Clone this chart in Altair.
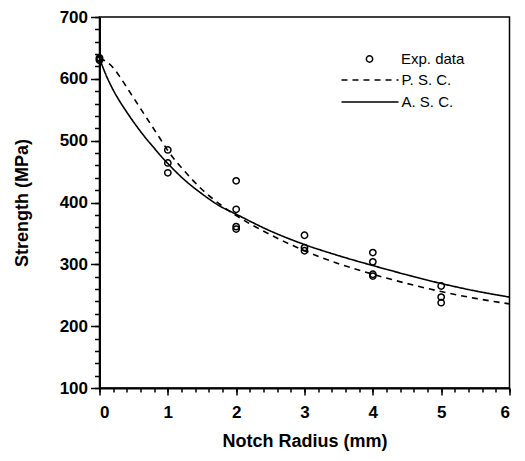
import altair as alt
import pandas as pd

# Experimental data (Notch radius in mm, strength in MPa)
exp_x = [0, 0, 0, 1, 1, 1, 2, 2, 2, 2, 3, 3, 3, 4, 4, 4, 4, 5, 5, 5]
exp_y = [634, 632, 630, 485, 464, 448, 435, 389, 361, 357, 347, 327, 322, 319, 304, 284, 281, 265, 247, 238]

# Model curves
curve_x = [0, 0.1, 0.2, 0.3, 0.4, 0.5, 0.6, 0.7, 0.8, 0.9, 1.0, 1.25, 1.5, 1.75,
           2.0, 2.5, 3.0, 3.5, 4.0, 4.5, 5.0, 5.5, 6.0]
psc_y = [633, 628, 618, 603, 586, 569, 552, 535, 518, 501, 484, 450, 421, 398,
         379, 348, 322, 301, 284, 269, 256, 245, 236]
asc_y = [633, 605, 582, 563, 546, 530, 515, 501, 488, 475, 463, 436, 414, 395,
         381, 354, 332, 314, 298, 283, 269, 257, 247]

series_names = ["P. S. C.", "A. S. C."]
exp_name = "Exp. data"

x_major_ticks = [0, 1, 2, 3, 4, 5, 6]
x_minor_ticks = [round(i * 0.2, 1) for i in range(31)]
y_major_ticks = [100, 200, 300, 400, 500, 600, 700]
y_minor_ticks = list(range(100, 701, 20))

exp_df = pd.DataFrame({"x": exp_x, "y": exp_y, "label": [exp_name] * len(exp_x)})
curves_df = pd.concat([
    pd.DataFrame({"x": curve_x, "y": psc_y, "model": series_names[0]}),
    pd.DataFrame({"x": curve_x, "y": asc_y, "model": series_names[1]}),
])

FONT = "Liberation Sans"
xs = alt.Scale(domain=[0, 6], nice=False)
ys = alt.Scale(domain=[100, 700], nice=False)

lines = alt.Chart(curves_df).mark_line(
    color="black", strokeWidth=1.6, interpolate="monotone"
).encode(
    x=alt.X("x:Q", scale=xs, axis=alt.Axis(
        values=x_major_ticks, tickSize=7, labelPadding=9, format="d",
        title="Notch Radius (mm)", titlePadding=12, orient="bottom")),
    y=alt.Y("y:Q", scale=ys, axis=alt.Axis(
        values=y_major_ticks, tickSize=9, labelPadding=3, format="d",
        title="Strength (MPa)", titlePadding=28, orient="left")),
    strokeDash=alt.StrokeDash(
        "model:N",
        scale=alt.Scale(domain=series_names, range=[[6, 5], [1, 0]]),
        legend=alt.Legend(
            title=None, orient="none", legendX=241, legendY=56,
            symbolType="stroke", symbolSize=3249, symbolStrokeWidth=1.6,
            symbolStrokeColor="black", labelOffset=2, clipHeight=14,
            rowPadding=7, padding=0, labelFont=FONT, labelFontSize=15,
            labelColor="black"),
    ),
)

points = alt.Chart(exp_df).mark_point(
    filled=False, color="black", size=40, strokeWidth=1.5, opacity=1
).encode(
    x=alt.X("x:Q", scale=xs, axis=alt.Axis(
        values=x_minor_ticks, tickSize=4, labels=False, title=None,
        domain=False, orient="bottom")),
    y=alt.Y("y:Q", scale=ys, axis=alt.Axis(
        values=y_minor_ticks, tickSize=5, labels=False, title=None,
        domain=False, orient="left")),
    shape=alt.Shape(
        "label:N",
        scale=alt.Scale(domain=[exp_name], range=["circle"]),
        legend=alt.Legend(
            title=None, orient="none", legendX=262.5, legendY=35,
            symbolSize=40, symbolStrokeWidth=1.5, symbolStrokeColor="black",
            symbolFillColor="transparent", labelOffset=24, clipHeight=14,
            padding=0, labelFont=FONT, labelFontSize=15, labelColor="black"),
    ),
)

chart = alt.layer(lines, points).resolve_axis(
    x="independent", y="independent"
).properties(
    width=410, height=371,
    autosize=alt.AutoSizeParams(type="none"),
    padding={"left": 91.5, "top": 9, "right": 5, "bottom": 64},
    background="white",
).configure_view(
    stroke="black", strokeWidth=1.5
).configure_axis(
    grid=False, domainColor="black", domainWidth=2, tickColor="black",
    tickWidth=1.5, labelFont=FONT, labelFontSize=17, labelFontWeight="bold",
    labelColor="black", titleFont=FONT, titleFontSize=18,
    titleFontWeight="bold", titleColor="black",
)

chart.save("out.html", embed_options={"renderer": "svg", "actions": False})
